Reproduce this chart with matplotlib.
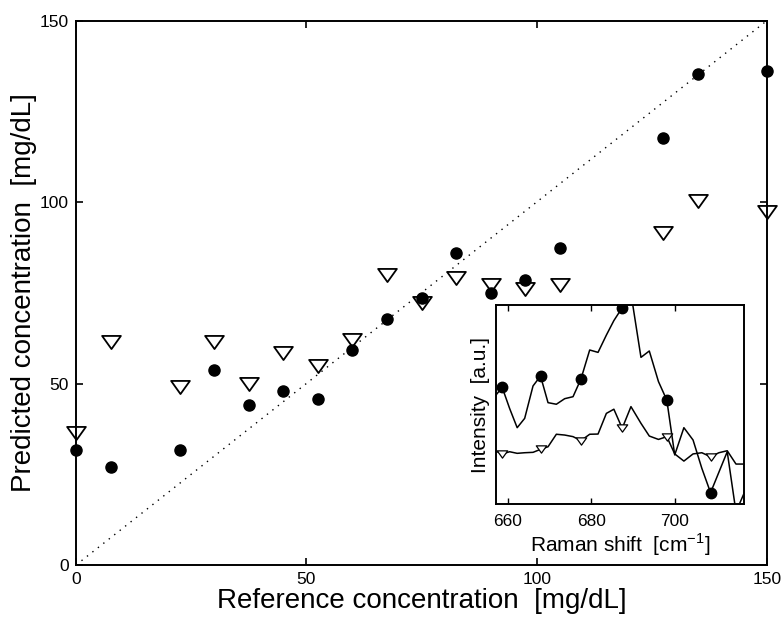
import numpy as np
import matplotlib
matplotlib.use("Agg")
import matplotlib.pyplot as plt
from matplotlib.path import Path

plt.rcParams['font.family'] = ['Liberation Sans', 'DejaVu Sans']
plt.rcParams['mathtext.fontset'] = 'custom'
plt.rcParams['mathtext.rm'] = 'Liberation Sans'

# ---- main scatter data ----
ref_conc = [0, 7.5, 22.5, 30, 37.5, 45, 52.5, 60, 67.5, 75, 82.5, 90, 97.5, 105, 127.5, 135, 150]
pred_circle = [31.7, 27.1, 31.8, 53.6, 44.2, 47.8, 45.6, 59.1, 67.7, 73.5, 86.0, 75.0, 78.5, 87.4, 117.7, 135.4, 136.0]
pred_triangle = [36.4, 61.5, 49.1, 61.5, 49.8, 58.5, 54.8, 62.0, 79.9, 72.3, 79.0, 77.1, 75.9, 77.1, 91.4, 100.3, 97.3]
main_ticks = [0, 50, 100, 150]

# ---- inset spectra ----
raman_shift = [656.6, 658.6, 660.4, 662.2, 664.0, 666.0, 667.8, 669.6, 671.6, 673.6, 675.6,
               677.5, 679.6, 681.6, 683.6, 685.4, 687.4, 689.5, 691.9, 693.9, 696.1, 698.1,
               700.0, 702.2, 704.4, 706.5, 708.6, 710.6, 712.6, 714.7, 716.7]
spec_circle = [0.535, 0.587, 0.48, 0.384, 0.431, 0.594, 0.644, 0.51, 0.502, 0.53, 0.54,
               0.629, 0.775, 0.763, 0.85, 0.923, 0.988, 1.06, 0.738, 0.77, 0.616, 0.523,
               0.247, 0.384, 0.322, 0.18, 0.057, 0.16, 0.263, -0.04, 0.057]
spec_triangle = [0.27, 0.252, 0.263, 0.255, 0.258, 0.26, 0.275, 0.288, 0.351, 0.347, 0.339,
                 0.319, 0.351, 0.352, 0.456, 0.477, 0.381, 0.49, 0.406, 0.342, 0.325, 0.339,
                 0.252, 0.216, 0.252, 0.258, 0.238, 0.258, 0.268, 0.201, 0.201]
marker_idx = [1, 6, 11, 16, 21, 26]
inset_ticks = [660, 680, 700]

tri = Path([(-1, 0.7), (1, 0.7), (0, -0.7), (-1, 0.7)],
           [Path.MOVETO, Path.LINETO, Path.LINETO, Path.CLOSEPOLY])

fig = plt.figure(figsize=(7.83, 6.20), dpi=100)
ax = fig.add_axes([0.0971, 0.0887, 0.8825, 0.8782])

ax.plot([0, 150], [0, 150], color='black', linestyle=(0, (1, 4)), linewidth=1.0)
ax.plot(ref_conc, pred_triangle, linestyle='none', marker=tri, markersize=13.5,
        markerfacecolor='none', markeredgecolor='black', markeredgewidth=1.3, clip_on=False)
ax.plot(ref_conc, pred_circle, linestyle='none', marker='o', markersize=8,
        markerfacecolor='black', markeredgecolor='black', clip_on=False, zorder=3)

ax.set_xlim(0, 150)
ax.set_ylim(0, 150)
ax.set_xticks(main_ticks)
ax.set_yticks(main_ticks)
ax.tick_params(direction='in', top=True, right=True, length=5, width=1.2,
               labelsize=12.5, pad=5)
for s in ax.spines.values():
    s.set_linewidth(1.4)
ax.set_xlabel('Reference concentration  [mg/dL]', fontsize=20, labelpad=1)
ax.set_ylabel('Predicted concentration  [mg/dL]', fontsize=20, labelpad=2)

# inset
ins = fig.add_axes([0.6331, 0.1871, 0.3175, 0.3205])
ins.plot(raman_shift, spec_circle, color='black', linewidth=1.1, marker='o',
         markersize=7.5, markevery=marker_idx, markerfacecolor='black')
ins.plot(raman_shift, spec_triangle, color='black', linewidth=1.1, marker=tri,
         markersize=7.5, markevery=marker_idx, markerfacecolor='white',
         markeredgecolor='black', markeredgewidth=0.9)
ins.set_xlim(657.05, 716.7)
ins.set_ylim(0, 1)
ins.set_xticks(inset_ticks)
ins.set_yticks([])
ins.tick_params(direction='in', top=True, length=4, width=1.0, labelsize=12.5, pad=7)
for s in ins.spines.values():
    s.set_linewidth(1.4)
ins.set_xlabel('Raman shift  [cm$^{-1}$]', fontsize=15, labelpad=2)
ins.set_ylabel('Intensity  [a.u.]', fontsize=15, labelpad=4)

fig.savefig('out.png', dpi=100)
